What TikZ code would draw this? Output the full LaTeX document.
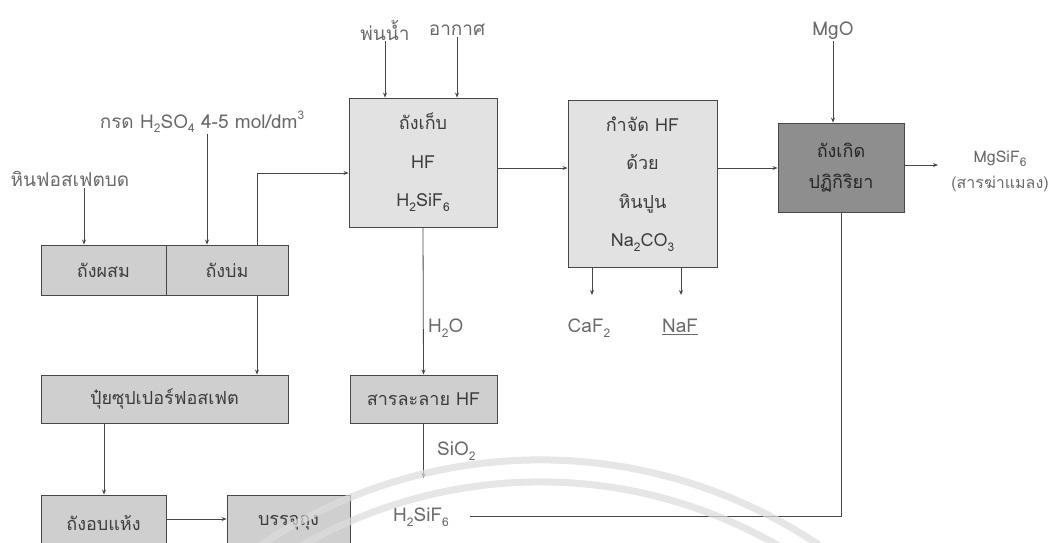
\documentclass[tikz,border=0pt]{standalone}
\usepackage{fontspec}
\setmainfont{Loma}[Script=Thai]
\usetikzlibrary{arrows.meta}
\definecolor{ln}{HTML}{474747}
\definecolor{lbl}{HTML}{6A6A6A}
\definecolor{boxtxt}{HTML}{3C3C3C}
\definecolor{fillA}{HTML}{CFCFCF}
\definecolor{fillB}{HTML}{E2E2E2}
\definecolor{fillC}{HTML}{8E8E8E}
\definecolor{wm}{HTML}{DCDCDC}
\newcommand\sbs[1]{\raisebox{-0.5ex}{\fontsize{12}{12}\selectfont #1}}
\newcommand\sps[1]{\raisebox{0.85ex}{\fontsize{12}{12}\selectfont #1}}
\tikzset{
  boxA/.style={draw=ln, line width=0.9pt, fill=fillA, inner sep=0pt, text=boxtxt,
    font=\fontsize{18}{21}\selectfont},
  boxB/.style={draw=ln, line width=0.9pt, fill=fillB, inner sep=0pt, text=boxtxt,
    align=center, font=\fontsize{18}{38.5}\selectfont},
  boxC/.style={draw=ln, line width=0.9pt, fill=fillC, inner sep=0pt, text=black!85,
    align=center, font=\fontsize{18}{31}\selectfont},
  lab/.style={text=lbl, inner sep=1pt, font=\fontsize{19}{22}\selectfont},
  arr/.style={draw=ln, line width=0.8pt, -{Stealth[length=5pt,width=4pt]}},
  ln/.style={draw=ln, line width=0.8pt},
}
\begin{document}
\begin{tikzpicture}[x=1pt,y=-1pt]
\useasboundingbox (0,0) rectangle (1050,542);
\fill[white] (0,0) rectangle (1050,542);
\clip (0,0) rectangle (1050,542);

% boxes
\node[boxA, minimum width=125pt, minimum height=50pt] (mix) at (103.5,270) {ถังผสม};
\node[boxA, minimum width=122pt, minimum height=50pt] (cure) at (227,270) {ถังบ่ม};
\node[boxA, minimum width=247pt, minimum height=48pt] (fert) at (164.5,399) {ปุ๋ยซุปเปอร์ฟอสเฟต};
\node[boxA, minimum width=125pt, minimum height=56pt] (dry) at (103.5,523) {ถังอบแห้ง};
\node[boxA, minimum width=123pt, minimum height=56pt] (pack) at (288.5,523) {บรรจุถุง};
\node[boxB, minimum width=148pt, minimum height=129pt] (hf) at (423,162.5) {ถังเก็บ\\HF\\H\sbs{2}SiF\sbs{6}};
\node[boxA, minimum width=147pt, minimum height=48pt] (sol) at (423.5,399) {สารละลาย HF};
\node[boxB, minimum width=149pt, minimum height=167pt] (rem) at (642.5,184) {กำจัด HF\\ด้วย\\หินปูน\\Na\sbs{2}CO\sbs{3}};
\node[boxC, minimum width=126pt, minimum height=89pt] (react) at (841,167.5) {ถังเกิด\\ปฏิกิริยา};

% labels
\node[lab] (rock) at (70,179) {หินฟอสเฟตบด};
\node[lab] (acid) at (202,122) {กรด H\sbs{2}SO\sbs{4} 4-5 mol/dm\sps{3}};
\node[lab] (water) at (385,30) {พ่นน้ำ};
\node[lab] (air) at (457,30) {อากาศ};
\node[lab] (mgo) at (833,31) {MgO};
\node[lab, anchor=west] (h2o) at (427,328) {H\sbs{2}O};
\node[lab, anchor=west] (sio2) at (436,451) {SiO\sbs{2}};
\node[lab] (h2sif6) at (421,517) {H\sbs{2}SiF\sbs{6}};
\node[lab] (caf2) at (589,328) {CaF\sbs{2}};
\node[lab] (naf) at (680,327) {\underline{NaF}};
\node[lab, align=center, font=\fontsize{16}{26}\selectfont] (prod) at (1000,171) {MgSiF\sbs{6}\\(สารฆ่าแมลง)};

% helper coordinates
\coordinate (c84) at (84,0);
\coordinate (c207) at (207,0);
\coordinate (c257) at (257,173);
\coordinate (c385) at (385,0);
\coordinate (c457) at (457,0);
\coordinate (c833) at (833,0);
\coordinate (c104) at (104,0);
\coordinate (c592) at (592,295);
\coordinate (c681) at (681,295);
\coordinate (c168) at (0,168);
\coordinate (c165) at (0,165);
\coordinate (c478) at (0,478);
\coordinate (c519) at (0,519);
\coordinate (h2end) at (470,516);
\coordinate (prodpt) at (938,165);

% connectors
\draw[arr] (rock.south -| c84) -- (mix.north -| c84);
\draw[arr] (acid.south -| c207) -- (cure.north -| c207);
\draw[arr] (cure.north -| c257) -- (c257) -- (hf.west |- c257);
\draw[arr] (water.south -| c385) -- (hf.north -| c385);
\draw[arr] (air.south -| c457) -- (hf.north -| c457);
\draw[arr] (hf.east |- c168) -- (rem.west |- c168);
\draw[arr] (rem.east |- c168) -- (react.west |- c168);
\draw[arr] (mgo.south -| c833) -- (react.north -| c833);
\draw[arr] (react.east |- c165) -- (prodpt);
\draw[arr] (rem.south -| c592) -- (c592);
\draw[arr] (rem.south -| c681) -- (c681);
\draw[arr] (hf.south) -- (sol.north);
\draw[arr] (sol.south) -- (sol.south |- c478);
\draw[arr] (cure.south -| c257) -- (fert.north -| c257);
\draw[arr] (fert.south -| c104) -- (dry.north -| c104);
\draw[arr] (dry.east |- c519) -- (pack.west |- c519);
\draw[ln] (h2end) -- (h2end -| react.south) -- (react.south);

% watermark arcs
\begin{scope}[wm, opacity=0.7, line width=7pt]
\draw (540,960) ++(205:500) arc[start angle=205, end angle=335, radius=500];
\draw (540,960) ++(205:478) arc[start angle=205, end angle=335, radius=478];
\end{scope}
\end{tikzpicture}
\end{document}
